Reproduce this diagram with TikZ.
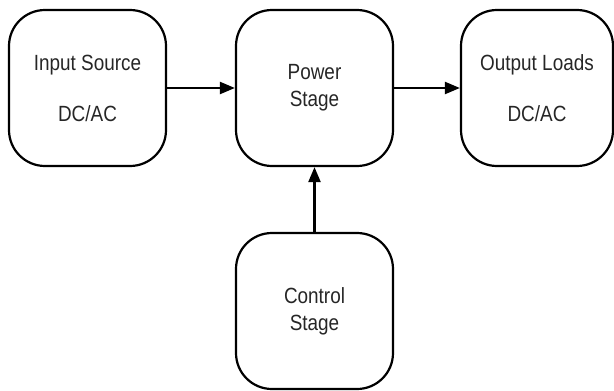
\documentclass[tikz,border=0pt]{standalone}
\usepackage{fontspec}
\setmainfont{Liberation Sans}[FakeStretch=0.86]
\usetikzlibrary{arrows.meta}
\begin{document}
\begin{tikzpicture}[x=1pt,y=-1pt,
  blockbox/.style={draw=black,line width=2.2pt,rounded corners=36pt,minimum width=157pt,minimum height=156pt,inner sep=0pt,align=center,font=\fontsize{22pt}{27pt}\selectfont,text=black!85},
  conn/.style={line width=2.2pt,-{Triangle[length=15pt,width=12pt]}}]
\useasboundingbox (0,0) rectangle (614,391);
\node[blockbox] (in) at (87.5,88) {Input Source\\[24pt]DC/AC};
\node[blockbox] (pw) at (314.5,88) {Power\\Stage};
\node[blockbox,minimum width=152pt] (out) at (537,88) {Output Loads\\[24pt]DC/AC};
\node[blockbox] (ct) at (314.5,311) {Control\\Stage};
\draw[conn] (in) -- (pw);
\draw[conn] (pw) -- (out);
\draw[conn] (ct) -- (pw);
\end{tikzpicture}
\end{document}
